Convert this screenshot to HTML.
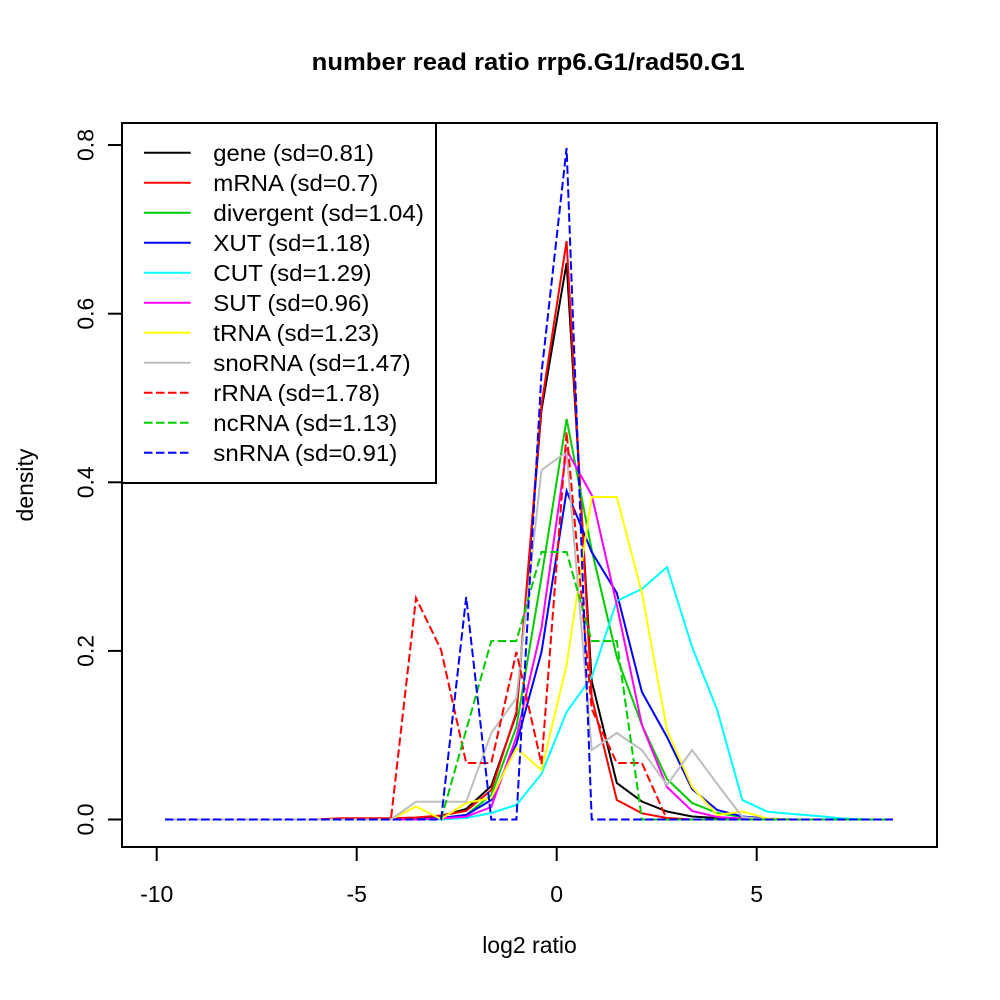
<!DOCTYPE html>
<html>
<head>
<meta charset="utf-8">
<style>
  html, body { margin: 0; padding: 0; background: #fff; }
  svg { display: block; }
  text { font-family: "Liberation Sans", Arial, sans-serif; fill: #000; }
</style>
</head>
<body>
<svg width="1000" height="1000" viewBox="0 0 1000 1000" xmlns="http://www.w3.org/2000/svg">
  <rect x="0" y="0" width="1000" height="1000" fill="#fff"/>

  <!-- Title -->
  <text x="311.7" y="70" font-size="24" font-weight="bold" textLength="433" lengthAdjust="spacingAndGlyphs">number read ratio rrp6.G1/rad50.G1</text>

  <!-- Series -->
  <g fill="none" stroke-width="2" stroke-linejoin="miter">
    <!-- gene -->
    <polyline stroke="#000000" points="165,819.5 365.8,819.5 390.9,818.5 416,818 441.1,816 466.2,809 491.3,786 516.4,714 541.5,410 566.6,263 591.7,681 616.8,783 641.9,801.5 667,811.5 692.1,816.5 717.2,818 742.3,819 767.4,819.5 892.9,819.5"/>
    <!-- mRNA -->
    <polyline stroke="#FF0000" points="165,819.5 315.6,819.5 340.7,818.3 365.8,818.3 390.9,818.3 416,817.5 441.1,815.5 466.2,811 491.3,790 516.4,712 541.5,405 566.6,241 591.7,697 616.8,800 641.9,813.3 667,818 692.1,819.5 892.9,819.5"/>
    <!-- divergent -->
    <polyline stroke="#00CD00" points="165,819.5 416,819.5 441.1,818 466.2,815 491.3,795 516.4,727 541.5,577 566.6,419 591.7,550 616.8,657 641.9,725 667,779 692.1,803 717.2,813 742.3,817 767.4,819.5 892.9,819.5"/>
    <!-- XUT -->
    <polyline stroke="#0000FF" points="165,819.5 416,819.5 441.1,818 466.2,815 491.3,800 516.4,744 541.5,652 566.6,491 591.7,552 616.8,593 641.9,692 667,737 692.1,789 717.2,810 742.3,816.5 767.4,818.5 792.5,819.5 892.9,819.5"/>
    <!-- CUT -->
    <polyline stroke="#00FFFF" points="165,819.5 441.1,819.5 466.2,818 491.3,813 516.4,805 541.5,774 566.6,712 591.7,677 616.8,601 641.9,589 667,567 692.1,647 717.2,710 742.3,800 767.4,811.7 792.5,814 817.6,816 842.7,818.5 867.8,819.5 892.9,819.5"/>
    <!-- SUT -->
    <polyline stroke="#FF00FF" points="165,819.5 416,819.5 441.1,818.5 466.2,816.7 491.3,807 516.4,737 541.5,628 566.6,450 591.7,495 616.8,605 641.9,725 667,787 692.1,811 717.2,817 742.3,818.5 767.4,819.5 892.9,819.5"/>
    <!-- tRNA -->
    <polyline stroke="#FFFF00" points="165,819.5 390.9,819.5 416,806.5 441.1,819 466.2,803 491.3,798 516.4,748 541.5,770 566.6,665 591.7,497 616.8,497 641.9,593 667,730 692.1,787 717.2,815 742.3,811.5 767.4,818.5 792.5,819.5 892.9,819.5"/>
    <!-- snoRNA -->
    <polyline stroke="#BEBEBE" points="165,819.5 390.9,819.5 416,801.7 441.1,801.7 466.2,801.7 491.3,733 516.4,698 541.5,470 566.6,452 591.7,750 616.8,733 641.9,750 667,785 692.1,750 717.2,784 742.3,817 767.4,819.5 892.9,819.5"/>
    <!-- rRNA -->
    <polyline stroke="#FF0000" stroke-dasharray="8.5 3.5" points="165,819.5 390.9,819.5 416,598 441.1,650 466.2,763 491.3,763 516.4,652 541.5,764 566.6,432 591.7,709 616.8,763 641.9,763 667,819.5 892.9,819.5"/>
    <!-- ncRNA -->
    <polyline stroke="#00CD00" stroke-dasharray="8.5 3.5" points="165,819.5 441.1,819.5 466.2,730 491.3,641 516.4,641 541.5,552 566.6,552 591.7,641 616.8,641 641.9,819.5 892.9,819.5"/>
    <!-- snRNA -->
    <polyline stroke="#0000FF" stroke-dasharray="8.5 3.5" points="165,819.5 441.1,819.5 466.2,597 491.3,819.5 516.4,819.5 541.5,373 566.6,148 591.7,819.5 892.9,819.5"/>
  </g>

  <!-- Plot box -->
  <rect x="122" y="123" width="815" height="724" fill="none" stroke="#000" stroke-width="2"/>

  <!-- X axis ticks -->
  <g stroke="#000" stroke-width="2">
    <line x1="156.7" y1="847" x2="156.7" y2="861"/>
    <line x1="356.7" y1="847" x2="356.7" y2="861"/>
    <line x1="556.7" y1="847" x2="556.7" y2="861"/>
    <line x1="756.7" y1="847" x2="756.7" y2="861"/>
  </g>
  <g font-size="23" text-anchor="middle">
    <text x="156.7" y="902">-10</text>
    <text x="356.7" y="902">-5</text>
    <text x="556.7" y="902">0</text>
    <text x="756.7" y="902">5</text>
  </g>

  <!-- Y axis ticks -->
  <g stroke="#000" stroke-width="2">
    <line x1="122" y1="819.5" x2="108" y2="819.5"/>
    <line x1="122" y1="650.9" x2="108" y2="650.9"/>
    <line x1="122" y1="482.3" x2="108" y2="482.3"/>
    <line x1="122" y1="313.7" x2="108" y2="313.7"/>
    <line x1="122" y1="145" x2="108" y2="145"/>
  </g>
  <g font-size="23" text-anchor="middle">
    <text transform="translate(93.5,819.5) rotate(-90)">0.0</text>
    <text transform="translate(93.5,650.9) rotate(-90)">0.2</text>
    <text transform="translate(93.5,482.3) rotate(-90)">0.4</text>
    <text transform="translate(93.5,313.7) rotate(-90)">0.6</text>
    <text transform="translate(93.5,145) rotate(-90)">0.8</text>
  </g>

  <!-- Axis titles -->
  <text x="529.5" y="953" font-size="23" text-anchor="middle">log2 ratio</text>
  <text transform="translate(33,485) rotate(-90)" font-size="23" text-anchor="middle">density</text>

  <!-- Legend -->
  <rect x="122" y="123" width="314" height="360" fill="#fff" stroke="#000" stroke-width="2"/>
  <g stroke-width="2" fill="none">
    <line x1="144" y1="152.7" x2="190.7" y2="152.7" stroke="#000000"/>
    <line x1="144" y1="182.7" x2="190.7" y2="182.7" stroke="#FF0000"/>
    <line x1="144" y1="212.7" x2="190.7" y2="212.7" stroke="#00CD00"/>
    <line x1="144" y1="242.7" x2="190.7" y2="242.7" stroke="#0000FF"/>
    <line x1="144" y1="272.7" x2="190.7" y2="272.7" stroke="#00FFFF"/>
    <line x1="144" y1="302.7" x2="190.7" y2="302.7" stroke="#FF00FF"/>
    <line x1="144" y1="332.7" x2="190.7" y2="332.7" stroke="#FFFF00"/>
    <line x1="144" y1="362.7" x2="190.7" y2="362.7" stroke="#BEBEBE"/>
    <line x1="144" y1="392.7" x2="190.7" y2="392.7" stroke="#FF0000" stroke-dasharray="8.5 3.5"/>
    <line x1="144" y1="422.7" x2="190.7" y2="422.7" stroke="#00CD00" stroke-dasharray="8.5 3.5"/>
    <line x1="144" y1="452.7" x2="190.7" y2="452.7" stroke="#0000FF" stroke-dasharray="8.5 3.5"/>
  </g>
  <g font-size="23">
    <text x="213.3" y="161" textLength="160.7" lengthAdjust="spacingAndGlyphs">gene (sd=0.81)</text>
    <text x="213.3" y="191" textLength="165" lengthAdjust="spacingAndGlyphs">mRNA (sd=0.7)</text>
    <text x="213.3" y="221" textLength="210.7" lengthAdjust="spacingAndGlyphs">divergent (sd=1.04)</text>
    <text x="213.3" y="251" textLength="157.3" lengthAdjust="spacingAndGlyphs">XUT (sd=1.18)</text>
    <text x="213.3" y="281" textLength="158.3" lengthAdjust="spacingAndGlyphs">CUT (sd=1.29)</text>
    <text x="213.3" y="311" textLength="156" lengthAdjust="spacingAndGlyphs">SUT (sd=0.96)</text>
    <text x="213.3" y="341" textLength="166" lengthAdjust="spacingAndGlyphs">tRNA (sd=1.23)</text>
    <text x="213.3" y="371" textLength="197.3" lengthAdjust="spacingAndGlyphs">snoRNA (sd=1.47)</text>
    <text x="213.3" y="401" textLength="166.7" lengthAdjust="spacingAndGlyphs">rRNA (sd=1.78)</text>
    <text x="213.3" y="431" textLength="184" lengthAdjust="spacingAndGlyphs">ncRNA (sd=1.13)</text>
    <text x="213.3" y="461" textLength="184" lengthAdjust="spacingAndGlyphs">snRNA (sd=0.91)</text>
  </g>
</svg>
</body>
</html>
